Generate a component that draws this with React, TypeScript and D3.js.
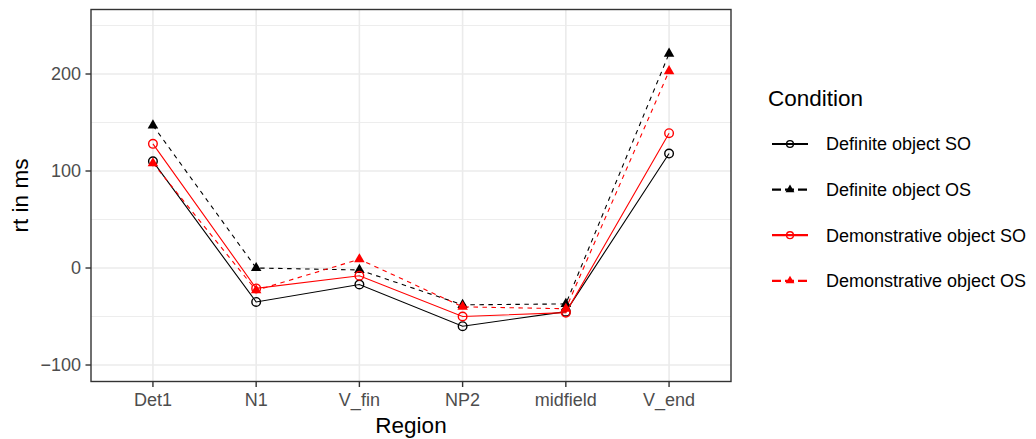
import React from 'react';
import * as d3 from 'd3';

const regions = ['Det1', 'N1', 'V_fin', 'NP2', 'midfield', 'V_end'];
const conditions = ['Definite object SO', 'Definite object OS', 'Demonstrative object SO', 'Demonstrative object OS'];
const definiteSO = [110, -35, -17, -60, -45, 118];
const definiteOS = [147, 0, -2, -38, -37, 221];
const demonstrativeSO = [128, -21, -8, -50, -46, 139];
const demonstrativeOS = [108, -23, 9, -40, -42, 203];
const yTicks = [-100, 0, 100, 200];
const yMinor = [-50, 50, 150, 250];

const seriesValues = [definiteSO, definiteOS, demonstrativeSO, demonstrativeOS];
const colors = ['#000000', '#000000', '#FF0000', '#FF0000'];
const dashed = [false, true, false, true];
const triangle = [false, true, false, true];

const W = 1036;
const H = 439;
const panel = { left: 91, right: 731, top: 9.5, bottom: 381.5 };
const font = '"Liberation Sans", Arial, Helvetica, sans-serif';

const App = () => {
  const x = d3
    .scalePoint<string>()
    .domain(regions)
    .range([panel.left, panel.right])
    .padding(0.6);
  const y = d3.scaleLinear().domain([-117, 266.5]).range([panel.bottom, panel.top]);
  const line = d3
    .line<number>()
    .x((_, i) => x(regions[i]) as number)
    .y((d) => y(d));
  const tri = d3.symbol().type(d3.symbolTriangle).size(48)();
  const triSmall = d3.symbol().type(d3.symbolTriangle).size(34)();

  const marker = (i: number, cx: number, cy: number, key: string, small = false) =>
    triangle[i] ? (
      <path key={key} d={small ? triSmall! : tri!} transform={`translate(${cx},${cy})`} fill={colors[i]} />
    ) : (
      <circle key={key} cx={cx} cy={cy} r={small ? 3.4 : 4.3} fill="none" stroke={colors[i]} strokeWidth={1.4} />
    );

  return (
    <svg width={W} height={H} style={{ position: 'absolute', left: 0, top: 0, fontFamily: font }}>
      <rect width={W} height={H} fill="white" />
      {/* grid */}
      {yMinor.map((t) => (
        <line key={'mn' + t} x1={panel.left} x2={panel.right} y1={y(t)} y2={y(t)} stroke="#EBEBEB" strokeWidth={0.9} />
      ))}
      {yTicks.map((t) => (
        <line key={'mj' + t} x1={panel.left} x2={panel.right} y1={y(t)} y2={y(t)} stroke="#EBEBEB" strokeWidth={1.6} />
      ))}
      {regions.map((r) => (
        <line key={'gx' + r} x1={x(r)} x2={x(r)} y1={panel.top} y2={panel.bottom} stroke="#EBEBEB" strokeWidth={1.6} />
      ))}
      {/* series */}
      {seriesValues.map((vals, i) => (
        <g key={'s' + i}>
          <path d={line(vals)!} fill="none" stroke={colors[i]} strokeWidth={1.1} strokeDasharray={dashed[i] ? '4.5,4.5' : undefined} />
          {vals.map((v, j) => marker(i, x(regions[j]) as number, y(v), 'm' + i + '-' + j))}
        </g>
      ))}
      {/* panel border */}
      <rect x={panel.left} y={panel.top} width={panel.right - panel.left} height={panel.bottom - panel.top} fill="none" stroke="#333333" strokeWidth={1.4} />
      {/* y axis */}
      {yTicks.map((t) => (
        <g key={'yt' + t}>
          <line x1={panel.left - 5.5} x2={panel.left} y1={y(t)} y2={y(t)} stroke="#333333" strokeWidth={1.4} />
          <text x={panel.left - 10} y={y(t)} dy="0.35em" textAnchor="end" fontSize={18} fill="#4D4D4D">
            {t < 0 ? '\u2212' + Math.abs(t) : t}
          </text>
        </g>
      ))}
      {/* x axis */}
      {regions.map((r) => (
        <g key={'xt' + r}>
          <line x1={x(r)} x2={x(r)} y1={panel.bottom} y2={panel.bottom + 5.5} stroke="#333333" strokeWidth={1.4} />
          <text x={x(r)} y={406} textAnchor="middle" fontSize={18} fill="#4D4D4D">
            {r}
          </text>
        </g>
      ))}
      <text x={(panel.left + panel.right) / 2} y={432.5} textAnchor="middle" fontSize={22.5} fill="black">
        Region
      </text>
      <text transform={`translate(28,${(panel.top + panel.bottom) / 2}) rotate(-90)`} textAnchor="middle" fontSize={22.5} fill="black">
        rt in ms
      </text>
      {/* legend */}
      <text x={768} y={106} fontSize={22.5} fill="black">
        Condition
      </text>
      {conditions.map((c, i) => {
        const cy = 144 + i * 45.6;
        return (
          <g key={'lg' + i}>
            <line x1={772} x2={808} y1={cy} y2={cy} stroke={colors[i]} strokeWidth={2.2} strokeDasharray={dashed[i] ? '9,4' : undefined} />
            {marker(i, 790, cy, 'lm' + i, true)}
            <text x={826} y={cy} dy="0.36em" fontSize={18} fill="black">
              {c}
            </text>
          </g>
        );
      })}
    </svg>
  );
};

export default App;
